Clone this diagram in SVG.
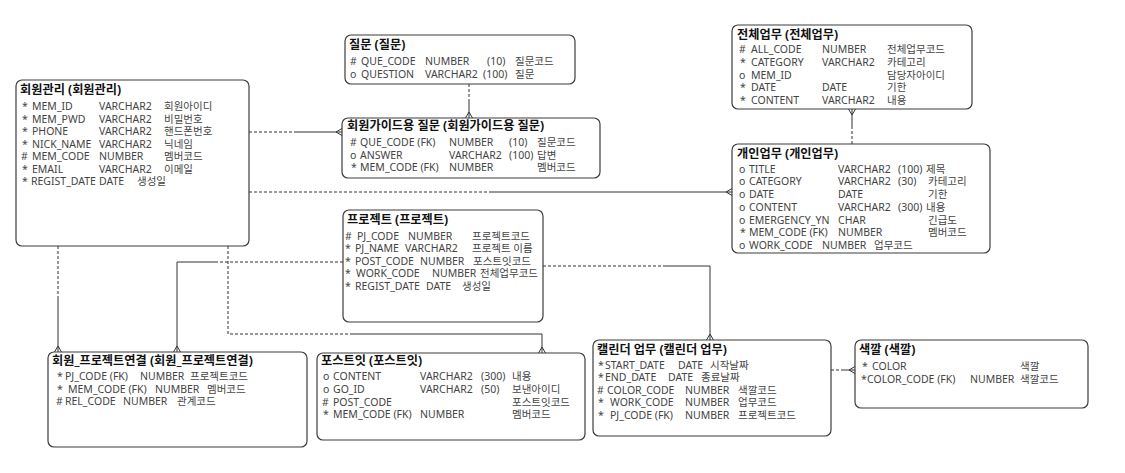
<svg xmlns="http://www.w3.org/2000/svg" width="1125" height="473" viewBox="0 0 1125 473">
<style>
.box{fill:#fff;stroke:#3c3c3c;stroke-width:1.2}
.t{font-family:"Noto Sans","Noto Sans CJK KR",sans-serif;font-size:10.5px;fill:#444}
.h{font-family:"Noto Sans","Noto Sans CJK KR",sans-serif;font-size:12.2px;font-weight:bold;fill:#111}
.c{fill:none;stroke:#333;stroke-width:1}
.d{stroke-dasharray:3,2}
</style>
<rect width="1125" height="473" fill="#fff"/>
<g id="connectors">
<path class="c d" d="M249,132H296"/><path class="c" d="M296,132H342M336,132L342,128.5M336,132L342,135.5"/>
<path class="c d" d="M469,84V101"/><path class="c" d="M469,101V118M469,112L465.5,118M469,112L472.5,118"/>
<path class="c d" d="M249,192H490"/><path class="c" d="M490,192H732M726,192L732,188.5M726,192L732,195.5"/>
<path class="c" d="M852,109V126M852,115L848.5,109M852,115L855.5,109"/><path class="c d" d="M852,126V144"/>
<path class="c d" d="M58,246V299"/><path class="c" d="M58,299V352M58,346L54.5,352M58,346L61.5,352"/>
<path class="c d" d="M343,262H215"/><path class="c" d="M215,262H177V352M177,346L173.5,352M177,346L180.5,352"/>
<path class="c d" d="M228,246V334H350"/><path class="c" d="M350,334H542V353M542,347L538.5,353M542,347L545.5,353"/>
<path class="c d" d="M543,266H663"/><path class="c" d="M663,266H710V340M710,334L706.5,340M710,334L713.5,340"/>
<path class="c d" d="M831,370H843"/><path class="c" d="M843,370H855M849,370L855,366.5M849,370L855,373.5"/>
</g>
<g id="member">
<rect class="box" x="16" y="80" width="233" height="166" rx="6"/>
<text class="h" x="20" y="94">회원관리 (회원관리)</text>
<text class="t" y="110"><tspan x="22">*</tspan><tspan x="32">MEM_ID</tspan><tspan x="99">VARCHAR2</tspan><tspan x="164">회원아이디</tspan></text>
<text class="t" y="122.5"><tspan x="22">*</tspan><tspan x="32">MEM_PWD</tspan><tspan x="99">VARCHAR2</tspan><tspan x="164">비밀번호</tspan></text>
<text class="t" y="135"><tspan x="22">*</tspan><tspan x="32">PHONE</tspan><tspan x="99">VARCHAR2</tspan><tspan x="164">핸드폰번호</tspan></text>
<text class="t" y="147.5"><tspan x="22">*</tspan><tspan x="32">NICK_NAME</tspan><tspan x="99">VARCHAR2</tspan><tspan x="164">닉네임</tspan></text>
<text class="t" y="160"><tspan x="21">#</tspan><tspan x="32">MEM_CODE</tspan><tspan x="99">NUMBER</tspan><tspan x="164">멤버코드</tspan></text>
<text class="t" y="172.5"><tspan x="22">*</tspan><tspan x="32">EMAIL</tspan><tspan x="99">VARCHAR2</tspan><tspan x="164">이메일</tspan></text>
<text class="t" y="185"><tspan x="22">*</tspan><tspan x="31">REGIST_DATE</tspan><tspan x="99">DATE</tspan><tspan x="137">생성일</tspan></text>
</g>
<g id="question">
<rect class="box" x="345" y="35" width="230" height="49" rx="6"/>
<text class="h" x="349" y="49">질문 (질문)</text>
<text class="t" y="65"><tspan x="350">#</tspan><tspan x="361">QUE_CODE</tspan><tspan x="425">NUMBER</tspan><tspan x="487">(10)</tspan><tspan x="515">질문코드</tspan></text>
<text class="t" y="77.5"><tspan x="350">o</tspan><tspan x="361">QUESTION</tspan><tspan x="425">VARCHAR2</tspan><tspan x="483">(100)</tspan><tspan x="515">질문</tspan></text>
</g>
<g id="guide">
<rect class="box" x="342" y="118" width="258" height="60" rx="6"/>
<text class="h" x="347" y="130">회원가이드용 질문 (회원가이드용 질문)</text>
<text class="t" y="146"><tspan x="350">#</tspan><tspan x="360">QUE_CODE (FK)</tspan><tspan x="449">NUMBER</tspan><tspan x="509">(10)</tspan><tspan x="537">질문코드</tspan></text>
<text class="t" y="158.5"><tspan x="350">o</tspan><tspan x="360">ANSWER</tspan><tspan x="449">VARCHAR2</tspan><tspan x="509">(100)</tspan><tspan x="537">답변</tspan></text>
<text class="t" y="171"><tspan x="351">*</tspan><tspan x="360">MEM_CODE (FK)</tspan><tspan x="449">NUMBER</tspan><tspan x="537">멤버코드</tspan></text>
</g>
<g id="allwork">
<rect class="box" x="732" y="25" width="240" height="84" rx="6"/>
<text class="h" x="737" y="38.5">전체업무 (전체업무)</text>
<text class="t" y="53"><tspan x="739">#</tspan><tspan x="751">ALL_CODE</tspan><tspan x="822">NUMBER</tspan><tspan x="887">전체업무코드</tspan></text>
<text class="t" y="66"><tspan x="740">*</tspan><tspan x="751">CATEGORY</tspan><tspan x="822">VARCHAR2</tspan><tspan x="887">카테고리</tspan></text>
<text class="t" y="78.5"><tspan x="739">o</tspan><tspan x="751">MEM_ID</tspan><tspan x="887">담당자아이디</tspan></text>
<text class="t" y="91"><tspan x="740">*</tspan><tspan x="751">DATE</tspan><tspan x="822">DATE</tspan><tspan x="887">기한</tspan></text>
<text class="t" y="104"><tspan x="740">*</tspan><tspan x="751">CONTENT</tspan><tspan x="822">VARCHAR2</tspan><tspan x="887">내용</tspan></text>
</g>
<g id="mywork">
<rect class="box" x="732" y="144" width="258" height="109" rx="6"/>
<text class="h" x="737" y="158">개인업무 (개인업무)</text>
<text class="t" y="172.5"><tspan x="739">o</tspan><tspan x="749">TITLE</tspan><tspan x="838">VARCHAR2</tspan><tspan x="898">(100)</tspan><tspan x="926">제목</tspan></text>
<text class="t" y="185"><tspan x="739">o</tspan><tspan x="749">CATEGORY</tspan><tspan x="838">VARCHAR2</tspan><tspan x="898">(30)</tspan><tspan x="928">카테고리</tspan></text>
<text class="t" y="198"><tspan x="739">o</tspan><tspan x="749">DATE</tspan><tspan x="838">DATE</tspan><tspan x="928">기한</tspan></text>
<text class="t" y="211"><tspan x="739">o</tspan><tspan x="749">CONTENT</tspan><tspan x="838">VARCHAR2</tspan><tspan x="898">(300)</tspan><tspan x="926">내용</tspan></text>
<text class="t" y="223.5"><tspan x="739">o</tspan><tspan x="749">EMERGENCY_YN</tspan><tspan x="838">CHAR</tspan><tspan x="928">긴급도</tspan></text>
<text class="t" y="236"><tspan x="740">*</tspan><tspan x="749">MEM_CODE (FK)</tspan><tspan x="838">NUMBER</tspan><tspan x="928">멤버코드</tspan></text>
<text class="t" y="249"><tspan x="739">o</tspan><tspan x="749">WORK_CODE</tspan><tspan x="822">NUMBER</tspan><tspan x="874">업무코드</tspan></text>
</g>
<g id="project">
<rect class="box" x="343" y="210" width="200" height="112" rx="6"/>
<text class="h" x="347" y="224">프로젝트 (프로젝트)</text>
<text class="t" y="239.5"><tspan x="345">#</tspan><tspan x="357">PJ_CODE</tspan><tspan x="408">NUMBER</tspan><tspan x="472">프로젝트코드</tspan></text>
<text class="t" y="252"><tspan x="345">*</tspan><tspan x="355">PJ_NAME</tspan><tspan x="405">VARCHAR2</tspan><tspan x="472">프로젝트 이름</tspan></text>
<text class="t" y="264.5"><tspan x="345">*</tspan><tspan x="355">POST_CODE</tspan><tspan x="420">NUMBER</tspan><tspan x="473">포스트잇코드</tspan></text>
<text class="t" y="277"><tspan x="345">*</tspan><tspan x="356">WORK_CODE</tspan><tspan x="432">NUMBER</tspan><tspan x="480">전체업무코드</tspan></text>
<text class="t" y="290"><tspan x="345">*</tspan><tspan x="355">REGIST_DATE</tspan><tspan x="426">DATE</tspan><tspan x="462">생성일</tspan></text>
</g>
<g id="memberproject">
<rect class="box" x="48" y="352" width="259" height="95" rx="6"/>
<text class="h" x="52" y="365">회원_프로젝트연결 (회원_프로젝트연결)</text>
<text class="t" y="380"><tspan x="57">*</tspan><tspan x="65">PJ_CODE (FK)</tspan><tspan x="140">NUMBER</tspan><tspan x="190">프로젝트코드</tspan></text>
<text class="t" y="392.5"><tspan x="57">*</tspan><tspan x="68">MEM_CODE (FK)</tspan><tspan x="155">NUMBER</tspan><tspan x="207">멤버코드</tspan></text>
<text class="t" y="405"><tspan x="56">#</tspan><tspan x="65">REL_CODE</tspan><tspan x="123">NUMBER</tspan><tspan x="177">관계코드</tspan></text>
</g>
<g id="postit">
<rect class="box" x="317" y="353" width="268" height="87" rx="6"/>
<text class="h" x="321" y="365">포스트잇 (포스트잇)</text>
<text class="t" y="380"><tspan x="323">o</tspan><tspan x="333">CONTENT</tspan><tspan x="420">VARCHAR2</tspan><tspan x="481">(300)</tspan><tspan x="512">내용</tspan></text>
<text class="t" y="393"><tspan x="323">o</tspan><tspan x="333">GO_ID</tspan><tspan x="420">VARCHAR2</tspan><tspan x="481">(50)</tspan><tspan x="512">보낸아이디</tspan></text>
<text class="t" y="405.5"><tspan x="322">#</tspan><tspan x="333">POST_CODE</tspan><tspan x="512">포스트잇코드</tspan></text>
<text class="t" y="418"><tspan x="323">*</tspan><tspan x="333">MEM_CODE (FK)</tspan><tspan x="420">NUMBER</tspan><tspan x="512">멤버코드</tspan></text>
</g>
<g id="calendar">
<rect class="box" x="593" y="340" width="238" height="96" rx="6"/>
<text class="h" x="597" y="353.5">캘린더 업무 (캘린더 업무)</text>
<text class="t" y="368.5"><tspan x="598">*</tspan><tspan x="605">START_DATE</tspan><tspan x="678">DATE</tspan><tspan x="710">시작날짜</tspan></text>
<text class="t" y="381"><tspan x="598">*</tspan><tspan x="605">END_DATE</tspan><tspan x="668">DATE</tspan><tspan x="701">종료날짜</tspan></text>
<text class="t" y="393.5"><tspan x="597">#</tspan><tspan x="607">COLOR_CODE</tspan><tspan x="685">NUMBER</tspan><tspan x="738">색깔코드</tspan></text>
<text class="t" y="406"><tspan x="598">*</tspan><tspan x="610">WORK_CODE</tspan><tspan x="685">NUMBER</tspan><tspan x="738">업무코드</tspan></text>
<text class="t" y="418.5"><tspan x="598">*</tspan><tspan x="610">PJ_CODE (FK)</tspan><tspan x="685">NUMBER</tspan><tspan x="738">프로젝트코드</tspan></text>
</g>
<g id="color">
<rect class="box" x="855" y="340" width="233" height="68" rx="6"/>
<text class="h" x="859" y="354">색깔 (색깔)</text>
<text class="t" y="370"><tspan x="862">*</tspan><tspan x="872">COLOR</tspan><tspan x="1020">색깔</tspan></text>
<text class="t" y="382.5"><tspan x="861">*</tspan><tspan x="867">COLOR_CODE (FK)</tspan><tspan x="970">NUMBER</tspan><tspan x="1020">색깔코드</tspan></text>
</g>
</svg>
